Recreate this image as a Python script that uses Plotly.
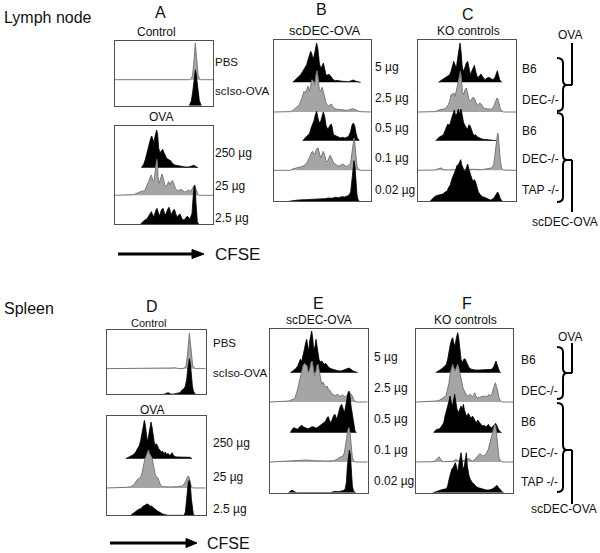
import plotly.graph_objects as go

W, H = 600, 553

# ---------------- histogram data: (CFSE channel, count) ----------------
# Panel A - Lymph node, control
a_pbs = [(8,0),(60,0),(68,1.5),(80,1.5),(90,0),(232,0),(238,3),(242,15),(245,45),(248,85),(250,110),(252,85),(255,45),(258,15),(262,3),(268,0),(303,0)]
a_iso = [(232,0),(238,15),(242,40),(245,70),(248,100),(250,108),(252,100),(255,70),(258,40),(262,15),(268,0)]
# Panel A - OVA
a_250 = [(88,0),(95,10),(100,25),(104,43),(108,58),(112,73),(116,88),(119,95),(122,85),(126,75),(130,98),(134,113),(137,98),(140,58),(144,45),(148,51),(152,55),(156,45),(160,33),(164,28),(168,25),(172,23),(176,21),(180,15),(186,9),(192,7),(200,5),(210,3),(220,2),(230,2),(240,5),(246,7),(252,3),(258,0)]
a_25 = [(8,0),(60,0),(65,2),(75,6),(85,11),(95,13),(100,18),(105,31),(110,41),(115,56),(118,61),(122,46),(126,41),(130,76),(134,108),(136,101),(138,56),(142,36),(146,51),(150,64),(154,51),(158,31),(162,26),(166,36),(170,41),(174,31),(178,41),(182,44),(186,31),(190,21),(194,16),(200,14),(206,18),(212,13),(218,10),(224,12),(230,16),(236,12),(240,18),(244,26),(248,31),(251,21),(254,11),(258,2),(262,0),(303,0)]
a_2p5 = [(85,0),(92,8),(98,13),(104,15),(110,25),(114,33),(118,38),(122,28),(126,23),(131,41),(135,48),(139,35),(143,25),(148,43),(153,48),(157,35),(161,28),(166,43),(171,51),(175,38),(179,28),(183,41),(187,45),(191,33),(195,21),(200,28),(204,31),(208,21),(212,13),(218,15),(224,23),(228,23),(232,17),(236,21),(240,33),(242,63),(244,98),(246,113),(248,118),(250,103),(252,63),(254,23),(256,8),(260,0)]
# Panel B - scDEC-OVA (lymph node)
b_5 = [(62,0),(70,8),(78,15),(86,23),(92,33),(98,43),(104,53),(108,68),(112,83),(116,93),(119,88),(122,73),(126,78),(130,103),(134,118),(138,98),(142,58),(146,43),(150,48),(154,58),(158,38),(162,23),(166,21),(170,25),(174,21),(178,15),(184,8),(190,5),(196,6),(204,4),(212,3),(220,3),(230,2),(238,5),(244,7),(250,4),(258,2),(266,0)]
b_2p5 = [(5,0),(55,1),(62,4),(68,10),(75,14),(82,22),(88,37),(92,52),(96,62),(100,57),(104,67),(108,77),(112,62),(116,82),(120,97),(124,92),(128,82),(132,112),(135,124),(138,107),(142,67),(146,62),(150,74),(154,62),(158,42),(162,27),(166,22),(170,17),(174,22),(178,24),(182,17),(188,10),(196,8),(206,6),(216,6),(226,5),(236,8),(242,10),(248,8),(256,4),(264,1),(298,0)]
b_0p5 = [(92,0),(98,8),(104,13),(110,18),(114,26),(118,40),(122,50),(126,60),(130,78),(134,88),(138,68),(142,53),(146,58),(150,76),(154,86),(158,73),(162,46),(166,36),(170,38),(174,46),(178,50),(181,38),(184,20),(188,16),(194,13),(200,12),(206,8),(212,10),(218,8),(224,10),(230,13),(236,28),(240,46),(244,53),(248,46),(252,23),(256,8),(262,0)]
b_0p1 = [(5,0),(55,0),(60,3),(70,7),(80,9),(90,11),(100,17),(106,25),(110,37),(114,42),(118,52),(122,57),(126,47),(130,52),(134,65),(138,67),(142,52),(146,37),(150,47),(154,57),(158,45),(162,29),(166,25),(170,37),(174,45),(178,39),(182,25),(186,19),(190,19),(196,14),(202,13),(208,17),(212,19),(218,15),(224,11),(230,15),(236,22),(240,52),(243,77),(246,97),(249,77),(252,37),(255,12),(260,3),(265,0),(298,0)]
b_0p02 = [(50,0),(60,2),(80,4),(100,5),(120,6),(140,6),(160,8),(170,10),(180,9),(190,12),(200,11),(210,14),(218,13),(226,16),(232,20),(236,28),(240,70),(243,105),(246,122),(249,105),(252,60),(255,20),(258,6),(262,0)]
# Panel C - KO controls (lymph node)
c_b6a = [(70,0),(78,5),(86,11),(92,15),(98,18),(104,23),(108,33),(112,48),(116,63),(120,53),(124,43),(128,73),(132,98),(135,118),(138,93),(142,43),(146,33),(150,48),(154,58),(158,63),(162,38),(166,23),(170,33),(174,43),(178,51),(182,33),(186,18),(190,15),(194,21),(198,25),(202,18),(206,11),(210,8),(216,13),(222,15),(228,11),(234,8),(240,15),(244,28),(247,35),(250,23),(254,8),(260,0)]
c_deca = [(8,0),(60,1),(68,5),(76,6),(84,8),(90,10),(96,17),(100,22),(104,32),(108,52),(112,54),(116,57),(120,47),(124,62),(128,82),(132,102),(136,122),(139,102),(142,62),(146,52),(150,67),(154,72),(158,57),(162,37),(166,32),(170,37),(174,44),(178,42),(182,27),(186,20),(190,22),(194,27),(198,24),(202,17),(206,12),(212,10),(220,9),(228,8),(234,12),(238,22),(242,34),(246,42),(249,37),(252,24),(256,10),(260,3),(266,0),(303,0)]
c_b6b = [(62,0),(68,6),(74,12),(80,14),(86,20),(90,30),(94,43),(98,50),(102,46),(106,53),(110,68),(114,83),(118,92),(122,75),(126,82),(130,95),(134,80),(138,95),(142,68),(146,53),(150,46),(154,38),(158,36),(162,48),(166,43),(170,30),(174,20),(178,16),(182,18),(186,12),(192,8),(198,6),(206,4),(216,3),(226,2),(236,1),(244,0)]
c_decb = [(8,0),(60,1),(70,5),(78,7),(86,2),(100,1),(120,2),(140,3),(160,3),(180,3),(200,2),(220,4),(230,7),(236,17),(240,47),(243,77),(246,97),(248,112),(250,104),(253,67),(256,27),(260,7),(265,1),(303,0)]
c_tap = [(45,0),(52,8),(60,15),(68,18),(76,20),(84,22),(90,28),(96,30),(100,40),(106,50),(110,65),(114,78),(118,85),(122,95),(126,108),(130,110),(134,118),(137,125),(140,110),(144,98),(148,90),(152,95),(156,105),(158,112),(162,95),(166,80),(170,70),(174,60),(178,65),(182,58),(186,40),(190,28),(196,20),(202,14),(208,12),(214,10),(220,6),(226,4),(232,6),(238,12),(244,22),(248,28),(252,20),(256,8),(262,0)]
# Panel D - Spleen, control
d_pbs = [(8,0),(140,0),(145,1),(155,1),(160,0),(200,0),(205,2),(212,3),(218,1),(225,0),(240,1),(246,8),(250,38),(253,78),(256,106),(259,78),(262,38),(266,8),(272,1),(280,0),(305,0)]
d_iso = [(180,0),(186,3),(192,5),(198,2),(204,0),(210,1),(220,2),(228,5),(234,13),(240,17),(244,25),(248,45),(251,75),(254,100),(256,107),(259,95),(262,55),(265,25),(268,10),(272,2),(276,0)]
# Panel D - OVA
d_250 = [(65,0),(72,4),(80,8),(88,12),(95,20),(100,30),(106,40),(110,55),(114,80),(118,100),(121,115),(124,100),(127,65),(130,50),(134,70),(138,100),(141,110),(144,95),(148,65),(152,40),(156,45),(160,40),(164,30),(168,25),(172,20),(176,22),(180,15),(184,20),(188,12),(192,16),(196,10),(200,12),(204,18),(208,10),(214,6),(220,5),(230,5),(240,4),(250,4),(258,4),(264,0)]
d_25 = [(8,0),(60,1),(70,2),(80,4),(88,8),(94,16),(98,23),(104,28),(110,33),(114,45),(118,70),(122,85),(126,95),(130,105),(133,114),(136,104),(140,95),(144,90),(147,75),(150,60),(154,38),(158,33),(162,30),(166,18),(170,8),(176,4),(186,3),(200,3),(220,4),(236,6),(244,18),(248,28),(252,36),(255,33),(258,18),(262,4),(266,0),(305,0)]
d_2p5 = [(80,0),(86,5),(92,10),(98,14),(104,18),(110,20),(114,26),(118,28),(122,30),(126,32),(130,34),(134,32),(138,27),(142,28),(146,24),(150,20),(156,16),(162,12),(168,8),(176,4),(184,2),(192,0),(240,0),(244,10),(247,40),(250,80),(253,102),(256,105),(259,90),(262,50),(265,15),(268,2),(272,0)]
# Panel E - scDEC-OVA (spleen)
e_5 = [(70,0),(78,5),(86,12),(92,20),(96,32),(100,40),(104,35),(108,50),(112,70),(116,90),(119,100),(122,80),(125,65),(128,95),(131,110),(134,125),(137,105),(140,65),(144,80),(147,100),(150,80),(153,50),(156,40),(160,32),(164,35),(168,30),(172,25),(176,28),(180,22),(186,15),(192,12),(198,10),(204,8),(212,6),(222,5),(232,8),(240,12),(246,14),(252,10),(258,5),(266,2),(272,0)]
e_2p5 = [(8,0),(60,1),(66,3),(72,6),(78,8),(84,13),(88,23),(92,38),(96,58),(100,78),(104,93),(108,108),(112,116),(116,113),(120,108),(124,88),(128,98),(132,118),(135,123),(138,108),(142,78),(146,88),(150,110),(153,113),(156,98),(160,68),(164,53),(168,60),(172,53),(176,43),(180,48),(184,38),(188,36),(192,28),(198,23),(204,18),(210,23),(216,20),(222,16),(226,22),(232,16),(238,18),(242,22),(248,28),(252,24),(256,18),(260,8),(264,2),(270,0),(302,0)]
e_0p5 = [(70,0),(74,8),(80,15),(86,12),(92,10),(98,18),(104,22),(110,17),(116,14),(122,12),(128,14),(134,18),(140,17),(146,14),(152,16),(158,20),(164,24),(170,30),(176,35),(180,45),(184,48),(188,35),(192,30),(196,40),(200,52),(204,55),(208,42),(212,50),(216,65),(220,80),(224,85),(228,75),(232,60),(236,80),(240,110),(243,120),(246,125),(249,110),(252,80),(256,50),(260,20),(264,5),(268,0)]
e_0p1 = [(8,0),(60,2),(80,4),(100,5),(120,6),(140,4),(160,3),(180,3),(200,4),(210,8),(216,13),(222,16),(228,18),(232,28),(236,48),(240,78),(243,98),(246,103),(249,88),(252,48),(256,13),(260,3),(266,0),(302,0)]
e_0p02 = [(65,0),(70,5),(76,7),(82,3),(88,0),(190,0),(196,2),(204,4),(212,3),(220,4),(228,6),(234,10),(238,30),(241,80),(244,115),(247,128),(250,115),(253,70),(256,20),(260,4),(266,0)]
# Panel F - KO controls (spleen)
f_b6a = [(68,0),(76,4),(84,10),(90,15),(96,20),(100,25),(104,40),(108,65),(112,85),(116,100),(119,105),(122,90),(126,80),(130,105),(134,120),(137,105),(140,70),(144,40),(148,30),(152,40),(156,42),(160,32),(164,25),(168,15),(176,10),(186,8),(200,8),(214,8),(226,8),(236,10),(242,18),(246,28),(249,35),(252,25),(256,10),(260,2),(264,0)]
f_deca = [(8,0),(60,1),(70,3),(80,6),(88,10),(96,16),(100,23),(104,38),(108,58),(112,88),(116,108),(119,113),(122,103),(126,93),(130,103),(134,113),(138,98),(142,78),(146,58),(150,43),(154,33),(158,23),(162,18),(166,18),(170,23),(174,20),(178,16),(182,20),(185,28),(188,18),(194,13),(200,14),(206,16),(212,18),(218,16),(224,18),(228,23),(232,18),(236,23),(240,33),(244,48),(247,58),(250,50),(254,33),(258,13),(262,3),(268,0),(300,0)]
f_b6b = [(62,0),(66,6),(72,10),(80,12),(86,20),(92,30),(96,50),(100,70),(104,80),(108,95),(111,110),(114,95),(118,80),(122,100),(125,115),(128,95),(132,70),(136,60),(140,70),(144,80),(148,70),(151,85),(154,70),(158,55),(162,50),(166,58),(170,50),(174,42),(178,50),(182,45),(186,35),(190,30),(194,38),(198,32),(202,25),(206,22),(210,20),(214,22),(218,18),(222,20),(226,25),(230,18),(236,15),(240,20),(244,25),(248,28),(252,20),(256,10),(262,2),(266,0)]
f_decb = [(8,0),(60,1),(66,4),(70,8),(74,14),(78,16),(82,10),(86,4),(92,1),(110,1),(120,2),(126,6),(130,8),(134,4),(140,2),(150,4),(160,8),(168,10),(174,5),(178,3),(184,6),(190,13),(196,20),(200,25),(204,23),(208,18),(214,20),(220,26),(226,38),(230,53),(234,68),(238,88),(242,103),(245,113),(248,108),(251,78),(254,38),(258,13),(262,4),(268,0),(300,0)]
f_tap = [(60,0),(70,4),(80,6),(90,10),(100,12),(104,20),(108,40),(112,60),(116,70),(120,75),(124,82),(127,90),(130,80),(134,60),(138,88),(141,105),(144,120),(147,100),(150,70),(154,80),(157,105),(160,120),(163,80),(168,50),(172,40),(178,30),(184,25),(190,18),(196,15),(204,12),(212,10),(220,8),(228,8),(236,10),(242,14),(248,20),(252,22),(256,16),(262,8),(268,2),(272,0)]

# labels
a_ctrl_labels = ["PBS", "scIso-OVA"]
a_ova_labels = ["250 µg", "25 µg", "2.5 µg"]
dose_labels = ["5 µg", "2.5 µg", "0.5 µg", "0.1 µg", "0.02 µg"]
ko_labels_ln = ["B6", "DEC-/-", "B6", "DEC-/-", "TAP -/-"]
ko_labels_sp = ["B6", "DEC-/-", "B6", "DEC-/-", "TAP -/-"]

# ---------------- layout of the boxes ----------------
# pixel box (left, right, top, bottom), channel range, count-axis range (bottom, top)
panels = [
    ((114.7, 213, 40.7, 105.7), (8, 303), (203, 8)),    # A control
    ((114.7, 213, 126, 224.3), (8, 303), (313, 18)),    # A OVA
    ((273.7, 371.3, 39.7, 201.3), (5, 298), (490, 5)),  # B
    ((417.7, 516, 39.7, 201.3), (8, 303), (490, 5)),    # C
    ((106.7, 205.7, 330, 394.3), (8, 305), (205, 12)),  # D control
    ((106.7, 205.7, 416, 515.3), (8, 305), (310, 12)),  # D OVA
    ((269.7, 367.7, 328.7, 492.7), (8, 302), (500, 8)), # E
    ((415.7, 513, 328.7, 492.7), (8, 300), (500, 8)),   # F
]
BLACK, GRAY = "k", "g"
curves = [
    (0, 125, GRAY, a_pbs), (0, 203, BLACK, a_iso),
    (1, 143, BLACK, a_250), (1, 226, GRAY, a_25), (1, 313, BLACK, a_2p5),
    (2, 133, BLACK, b_5), (2, 222, GRAY, b_2p5), (2, 308, BLACK, b_0p5), (2, 397, GRAY, b_0p1), (2, 490, BLACK, b_0p02),
    (3, 133, BLACK, c_b6a), (3, 222, GRAY, c_deca), (3, 308, BLACK, c_b6b), (3, 397, GRAY, c_decb), (3, 490, BLACK, c_tap),
    (4, 128, GRAY, d_pbs), (4, 205, BLACK, d_iso),
    (5, 140, BLACK, d_250), (5, 228, GRAY, d_25), (5, 310, BLACK, d_2p5),
    (6, 140, BLACK, e_5), (6, 228, GRAY, e_2p5), (6, 320, BLACK, e_0p5), (6, 408, GRAY, e_0p1), (6, 500, BLACK, e_0p02),
    (7, 140, BLACK, f_b6a), (7, 228, GRAY, f_deca), (7, 320, BLACK, f_b6b), (7, 408, GRAY, f_decb), (7, 500, BLACK, f_tap),
]

def px(x):
    return x / W

def py(y):
    return 1 - y / H

fig = go.Figure()
layout_axes = {}
for i, (box, xr, yr) in enumerate(panels):
    l, r, t, b = box
    sx = "" if i == 0 else str(i + 1)
    layout_axes["xaxis" + sx] = dict(domain=[px(l), px(r)], range=list(xr), anchor="y" + sx,
                                    showticklabels=False, ticks="", showgrid=False, zeroline=False,
                                    showline=True, mirror=True, linecolor="#505050", linewidth=1, fixedrange=True)
    layout_axes["yaxis" + sx] = dict(domain=[py(b), py(t)], range=list(yr), anchor="x" + sx,
                                    showticklabels=False, ticks="", showgrid=False, zeroline=False,
                                    showline=True, mirror=True, linecolor="#505050", linewidth=1, fixedrange=True)

for pi, base, col, data in curves:
    sx = "" if pi == 0 else str(pi + 1)
    xs = [p[0] for p in data]
    ys = [base - p[1] for p in data]
    if col == BLACK:
        fill, line = "#000000", dict(color="#000000", width=0.8)
    else:
        fill, line = "#a5a5a5", dict(color="#777777", width=1)
    fig.add_trace(go.Scatter(x=xs, y=ys, mode="lines", fill="toself", fillcolor=fill, line=line,
                             xaxis="x" + sx, yaxis="y" + sx, hoverinfo="skip", showlegend=False))

FONT = "Arial, Liberation Sans, sans-serif"
ann = []

def text(x, y, s, size=12, anchor="left"):
    ann.append(dict(x=px(x), y=py(y), xref="paper", yref="paper", text=s, showarrow=False,
                    xanchor=anchor, yanchor="middle", font=dict(family=FONT, size=size, color="#111")))

# headings
text(2, 17, "Lymph node", 16)
text(2, 308, "Spleen", 16)
text(160, 12, "A", 16, "center"); text(156, 32, "Control", 12, "center"); text(161, 117, "OVA", 12, "center")
text(321, 9, "B", 16, "center"); text(325, 31, "scDEC-OVA", 13, "center")
text(468, 14, "C", 16, "center"); text(468, 31, "KO controls", 12, "center")
text(152, 306, "D", 16, "center"); text(148, 323, "Control", 11, "center"); text(152, 410, "OVA", 12, "center")
text(318, 303, "E", 16, "center"); text(319, 320, "scDEC-OVA", 12, "center")
text(467, 303, "F", 16, "center"); text(465, 320, "KO controls", 12, "center")

for s, y in zip(a_ctrl_labels, [62, 91]):
    text(213, y, s, 11.5)
for s, y in zip(a_ova_labels, [153, 186, 218]):
    text(213, y, s, 12)
for s, y in zip(a_ctrl_labels, [343, 373]):
    text(211, y, s, 11.5)
for s, y in zip(a_ova_labels, [443, 477, 509]):
    text(211, y, s, 12)
for s, y in zip(dose_labels, [67, 98, 128, 158, 190]):
    text(373, y, s, 12)
for s, y in zip(dose_labels, [357, 388, 419, 450, 481]):
    text(372, y, s, 12)
for s, y in zip(ko_labels_ln, [69, 100, 131, 159, 190]):
    text(520, y, s, 12)
for s, y in zip(ko_labels_sp, [360, 391, 422, 453, 482]):
    text(519, y, s, 12)

text(570, 35, "OVA", 12, "center"); text(565, 222, "scDEC-OVA", 12, "center")
text(570, 337, "OVA", 12, "center"); text(564, 509, "scDEC-OVA", 12, "center")
text(213, 254, "CFSE", 17); text(205, 543, "CFSE", 16)

shapes = []

def brace(top, mid, bot, xl=557, xm=563, xt=567):
    p = (f"M {px(xl)},{py(top)} Q {px(xm)},{py(top)} {px(xm)},{py(top+5)} "
         f"L {px(xm)},{py(mid-5)} Q {px(xm)},{py(mid)} {px(xt)},{py(mid)} "
         f"Q {px(xm)},{py(mid)} {px(xm)},{py(mid+5)} "
         f"L {px(xm)},{py(bot-5)} Q {px(xm)},{py(bot)} {px(xl)},{py(bot)}")
    shapes.append(dict(type="path", path=p, xref="paper", yref="paper", line=dict(color="#000", width=2)))

def seg(x0, y0, x1, y1, w=2):
    shapes.append(dict(type="line", x0=px(x0), y0=py(y0), x1=px(x1), y1=py(y1), xref="paper", yref="paper",
                       line=dict(color="#000", width=w)))

brace(58, 85, 111); seg(567, 85, 572, 85); seg(572, 85, 572, 43)
brace(113, 160, 202); seg(567, 160, 572, 160); seg(572, 160, 572, 212)
brace(347, 373, 399); seg(567, 373, 572, 373); seg(572, 373, 572, 343)
brace(403, 450, 492); seg(567, 450, 572, 450); seg(572, 450, 572, 504)

def arrow(x0, x1, xt, y):
    seg(x0, y, x1 + 1, y, 3)
    p = f"M {px(x1)},{py(y-4.5)} L {px(xt)},{py(y)} L {px(x1)},{py(y+4.5)} Z"
    shapes.append(dict(type="path", path=p, xref="paper", yref="paper", fillcolor="#000", line=dict(color="#000", width=1)))

arrow(118, 192, 204, 254)
arrow(110, 186, 197, 543)

fig.update_layout(width=W, height=H, margin=dict(l=0, r=0, t=0, b=0), paper_bgcolor="white",
                  plot_bgcolor="white", showlegend=False, annotations=ann, shapes=shapes, **layout_axes)
fig.write_html("out.html", config={"displayModeBar": False},
               post_script="document.body.style.margin='0';document.body.style.padding='0';")
